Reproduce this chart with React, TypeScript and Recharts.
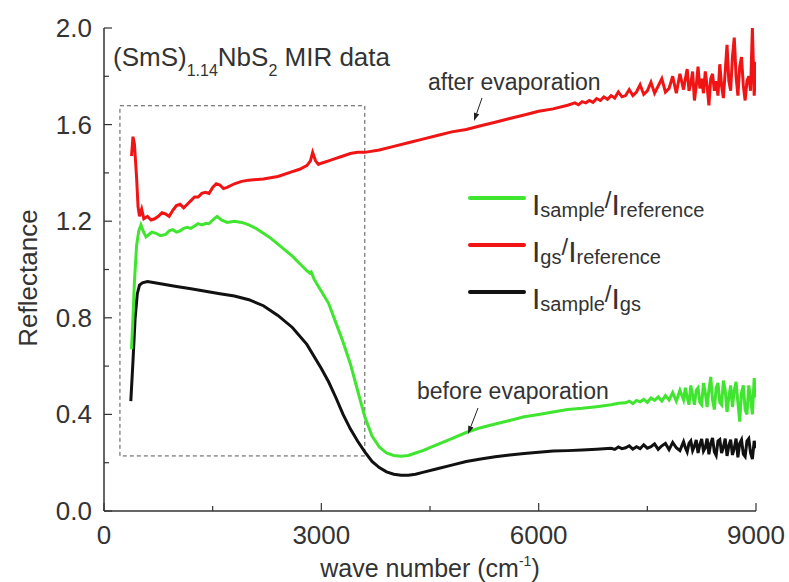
import React from "react";
import { LineChart, Line, XAxis, YAxis, ReferenceArea } from "recharts";

// [wave number, reflectance]
const GS_REF: [number, number][] = [
  [380, 1.47], [400, 1.55], [420, 1.52], [450, 1.38], [470, 1.26], [490, 1.22], [520, 1.25], [550, 1.21],
  [600, 1.22], [650, 1.205], [700, 1.21], [750, 1.22], [800, 1.235], [850, 1.23], [900, 1.22], [950, 1.245],
  [1000, 1.265], [1050, 1.27], [1100, 1.255], [1150, 1.27], [1200, 1.285], [1250, 1.3], [1300, 1.3],
  [1350, 1.315], [1400, 1.32], [1450, 1.315], [1500, 1.34], [1550, 1.355], [1600, 1.35], [1650, 1.335],
  [1700, 1.34], [1800, 1.355], [1900, 1.365], [2000, 1.37], [2200, 1.375], [2400, 1.385], [2600, 1.405],
  [2700, 1.415], [2800, 1.43], [2850, 1.45], [2880, 1.485], [2920, 1.45], [2960, 1.435], [3000, 1.44],
  [3100, 1.45], [3200, 1.46], [3300, 1.47], [3400, 1.48], [3500, 1.485], [3600, 1.485], [3800, 1.495],
  [4000, 1.51], [4200, 1.525], [4400, 1.54], [4600, 1.555], [4800, 1.57], [5000, 1.58], [5200, 1.595],
  [5400, 1.61], [5600, 1.625], [5800, 1.64], [6000, 1.655], [6200, 1.665], [6400, 1.68],
  [6500, 1.69], [6550, 1.682], [6600, 1.695], [6650, 1.69], [6700, 1.7], [6750, 1.692], [6800, 1.708],
  [6850, 1.7], [6900, 1.715], [6950, 1.705], [7000, 1.72], [7050, 1.71], [7100, 1.735], [7150, 1.715],
  [7200, 1.72], [7250, 1.745], [7300, 1.72], [7350, 1.735], [7400, 1.765], [7450, 1.725], [7500, 1.74],
  [7550, 1.775], [7600, 1.73], [7650, 1.76], [7700, 1.79], [7750, 1.735], [7800, 1.75], [7850, 1.8],
  [7900, 1.73], [7950, 1.81], [8000, 1.745], [8025, 1.79], [8050, 1.83], [8075, 1.74], [8100, 1.77],
  [8125, 1.82], [8150, 1.7], [8175, 1.76], [8200, 1.84], [8225, 1.75], [8250, 1.79], [8275, 1.73],
  [8300, 1.82], [8325, 1.76], [8350, 1.68], [8375, 1.79], [8400, 1.81], [8425, 1.74], [8450, 1.78],
  [8475, 1.72], [8500, 1.85], [8525, 1.76], [8550, 1.71], [8575, 1.82], [8600, 1.93], [8625, 1.78],
  [8650, 1.74], [8675, 1.88], [8700, 1.96], [8725, 1.8], [8750, 1.72], [8775, 1.84], [8800, 1.88],
  [8825, 1.76], [8850, 1.7], [8875, 1.78], [8900, 1.8], [8925, 1.74], [8950, 2.0], [8975, 1.72], [9000, 1.86],
];

const SAMPLE_REF: [number, number][] = [
  [380, 0.67], [400, 0.8], [420, 0.95], [450, 1.1], [480, 1.16], [510, 1.185], [540, 1.16], [580, 1.135],
  [620, 1.145], [660, 1.155], [720, 1.15], [780, 1.14], [850, 1.145], [900, 1.16], [950, 1.165],
  [1000, 1.155], [1050, 1.16], [1100, 1.17], [1150, 1.175], [1200, 1.17], [1250, 1.18], [1300, 1.19],
  [1350, 1.185], [1400, 1.19], [1450, 1.19], [1500, 1.205], [1560, 1.22], [1620, 1.205], [1700, 1.195],
  [1800, 1.2], [1900, 1.195], [2000, 1.185], [2100, 1.17], [2200, 1.15], [2300, 1.13], [2400, 1.105],
  [2500, 1.08], [2600, 1.055], [2700, 1.025], [2800, 0.995], [2840, 0.985], [2860, 0.99], [2900, 0.96],
  [2950, 0.935], [3000, 0.91], [3100, 0.86], [3200, 0.78], [3300, 0.7], [3400, 0.61], [3500, 0.5],
  [3600, 0.39], [3700, 0.31], [3800, 0.265], [3900, 0.24], [4000, 0.23], [4100, 0.227], [4200, 0.23],
  [4300, 0.24], [4400, 0.25], [4600, 0.275], [4800, 0.3], [5000, 0.325], [5200, 0.345], [5400, 0.36],
  [5600, 0.375], [5800, 0.39], [6000, 0.4], [6200, 0.41], [6400, 0.42], [6600, 0.425], [6800, 0.432],
  [6900, 0.436], [7000, 0.44], [7100, 0.446], [7200, 0.448], [7250, 0.455], [7300, 0.445], [7350, 0.458],
  [7400, 0.452], [7450, 0.462], [7500, 0.45], [7550, 0.468], [7600, 0.458], [7650, 0.472], [7700, 0.455],
  [7750, 0.478], [7800, 0.46], [7850, 0.49], [7900, 0.455], [7950, 0.5], [8000, 0.46], [8025, 0.51],
  [8050, 0.47], [8075, 0.44], [8100, 0.52], [8125, 0.48], [8150, 0.44], [8175, 0.5], [8200, 0.51],
  [8225, 0.45], [8250, 0.44], [8275, 0.53], [8300, 0.49], [8325, 0.43], [8350, 0.5], [8375, 0.555],
  [8400, 0.46], [8425, 0.42], [8450, 0.51], [8475, 0.53], [8500, 0.45], [8525, 0.44], [8550, 0.54],
  [8575, 0.5], [8600, 0.41], [8625, 0.47], [8650, 0.52], [8675, 0.43], [8700, 0.5], [8725, 0.535],
  [8750, 0.45], [8775, 0.37], [8800, 0.49], [8825, 0.52], [8850, 0.42], [8875, 0.4], [8900, 0.52],
  [8925, 0.47], [8950, 0.4], [8975, 0.55], [9000, 0.47],
];

const SAMPLE_GS: [number, number][] = [
  [370, 0.455], [400, 0.62], [430, 0.8], [460, 0.9], [490, 0.935], [530, 0.945], [600, 0.95], [700, 0.945],
  [800, 0.94], [900, 0.935], [1000, 0.93], [1200, 0.92], [1400, 0.91], [1600, 0.9], [1800, 0.89],
  [2000, 0.875], [2200, 0.85], [2400, 0.81], [2600, 0.76], [2800, 0.69], [3000, 0.59], [3100, 0.535],
  [3200, 0.47], [3300, 0.4], [3400, 0.34], [3500, 0.29], [3600, 0.245], [3700, 0.205], [3800, 0.18],
  [3900, 0.162], [4000, 0.152], [4100, 0.148], [4200, 0.148], [4300, 0.152], [4400, 0.16], [4600, 0.175],
  [4800, 0.19], [5000, 0.205], [5200, 0.215], [5400, 0.225], [5600, 0.232], [5800, 0.238], [6000, 0.243],
  [6200, 0.248], [6400, 0.25], [6600, 0.253], [6800, 0.256], [6900, 0.258], [7000, 0.26], [7050, 0.255],
  [7100, 0.265], [7150, 0.258], [7200, 0.262], [7250, 0.27], [7300, 0.256], [7350, 0.266], [7400, 0.258],
  [7450, 0.274], [7500, 0.26], [7550, 0.266], [7600, 0.278], [7650, 0.255], [7700, 0.27], [7750, 0.28],
  [7800, 0.254], [7850, 0.284], [7900, 0.262], [7950, 0.25], [8000, 0.287], [8025, 0.262], [8050, 0.245],
  [8075, 0.28], [8100, 0.29], [8125, 0.25], [8150, 0.268], [8175, 0.294], [8200, 0.24], [8225, 0.275],
  [8250, 0.298], [8275, 0.248], [8300, 0.262], [8325, 0.3], [8350, 0.235], [8375, 0.28], [8400, 0.302],
  [8425, 0.245], [8450, 0.23], [8475, 0.29], [8500, 0.296], [8525, 0.24], [8550, 0.265], [8575, 0.3],
  [8600, 0.228], [8625, 0.27], [8650, 0.295], [8675, 0.232], [8700, 0.26], [8725, 0.3], [8750, 0.222],
  [8775, 0.28], [8800, 0.295], [8825, 0.235], [8850, 0.225], [8875, 0.29], [8900, 0.3], [8925, 0.24],
  [8950, 0.215], [8975, 0.29], [9000, 0.26],
];

const X_TICKS = [0, 1500, 3000, 4500, 6000, 7500, 9000];
const Y_TICKS = [0, 0.2, 0.4, 0.6, 0.8, 1.0, 1.2, 1.4, 1.6, 1.8, 2.0];
// dashed box marking the zoomed region
const BOX = { x1: 220, x2: 3600, y1: 0.228, y2: 1.678 };

const RED = "#f01414";
const GREEN = "#3fe52e";
const BLACK = "#111111";
const AXIS = "#333333";
const FONT = "'Liberation Sans', Arial, sans-serif";

const toRows = (pts: [number, number][]) => pts.map(([x, y]) => ({ x, y }));

function BottomTick(props: any) {
  const { x, y, index } = props;
  const major = index % 2 === 0;
  return (
    <g>
      <line x1={x} x2={x} y1={y} y2={y - (major ? 8 : 5)} stroke={AXIS} strokeWidth={1.2} />
      {major && (
        <text x={x} y={y + 33} textAnchor="middle" fontSize={26} fill={AXIS} fontFamily={FONT}>
          {X_TICKS[index]}
        </text>
      )}
    </g>
  );
}

function TopTick(props: any) {
  const { x, y, index } = props;
  const major = index % 2 === 0;
  return <line x1={x} x2={x} y1={y} y2={y + (major ? 8 : 5)} stroke={AXIS} strokeWidth={1.2} />;
}

function LeftTick(props: any) {
  const { x, y, index } = props;
  const major = index % 2 === 0;
  return (
    <g>
      <line x1={x} x2={x + (major ? 8 : 5)} y1={y} y2={y} stroke={AXIS} strokeWidth={1.2} />
      {major && (
        <text x={x - 12} y={y + 9} textAnchor="end" fontSize={26} fill={AXIS} fontFamily={FONT}>
          {Y_TICKS[index].toFixed(1)}
        </text>
      )}
    </g>
  );
}

function RightTick(props: any) {
  const { x, y, index } = props;
  const major = index % 2 === 0;
  return <line x1={x} x2={x - (major ? 8 : 5)} y1={y} y2={y} stroke={AXIS} strokeWidth={1.2} />;
}

function Arrow({ x1, y1, x2, y2 }: { x1: number; y1: number; x2: number; y2: number }) {
  const len = Math.hypot(x2 - x1, y2 - y1);
  const ux = (x2 - x1) / len, uy = (y2 - y1) / len;
  const bx = x2 - ux * 8, by = y2 - uy * 8;
  const pts = `${x2},${y2} ${bx - uy * 2.8},${by + ux * 2.8} ${bx + uy * 2.8},${by - ux * 2.8}`;
  return (
    <g>
      <line x1={x1} y1={y1} x2={bx} y2={by} stroke="#222" strokeWidth={1} />
      <polygon points={pts} fill="#222" />
    </g>
  );
}

function LegendRow({ y, color, a, b }: { y: number; color: string; a: string; b: string }) {
  return (
    <g>
      <line x1={470} x2={524} y1={y} y2={y} stroke={color} strokeWidth={4} strokeLinecap="round" />
      <text x={532} y={y + 17} fill="#333" fontFamily={FONT}>
        <tspan fontSize={30}>I</tspan>
        <tspan fontSize={20} dy={2}>{a}</tspan>
        <tspan fontSize={24} dy={-9}>/</tspan>
        <tspan fontSize={30} dy={7}>I</tspan>
        <tspan fontSize={20} dy={2}>{b}</tspan>
      </text>
    </g>
  );
}

export default function App() {
  return (
    <div style={{ position: "absolute", left: 0, top: 0, width: 789, height: 582, background: "#fff" }}>
      <LineChart width={789} height={582} margin={{ top: 28, right: 33, bottom: 0, left: 0 }}>
        <XAxis
          dataKey="x" type="number" domain={[0, 9000]} ticks={X_TICKS} height={71}
          allowDataOverflow tickSize={0} tickMargin={0} tickLine={false}
          axisLine={{ stroke: AXIS, strokeWidth: 1.5 }} tick={<BottomTick />} interval={0}
        />
        <XAxis
          xAxisId="top" orientation="top" dataKey="x" type="number" domain={[0, 9000]} ticks={X_TICKS}
          height={0} tickSize={0} tickMargin={0} tickLine={false}
          axisLine={{ stroke: AXIS, strokeWidth: 1.5 }} tick={<TopTick />} interval={0}
        />
        <YAxis
          type="number" domain={[0, 2]} ticks={Y_TICKS} width={104} allowDataOverflow
          tickSize={0} tickMargin={0} tickLine={false}
          axisLine={{ stroke: AXIS, strokeWidth: 1.5 }} tick={<LeftTick />} interval={0}
        />
        <YAxis
          yAxisId="right" orientation="right" type="number" domain={[0, 2]} ticks={Y_TICKS} width={0}
          tickSize={0} tickMargin={0} tickLine={false}
          axisLine={{ stroke: AXIS, strokeWidth: 1.5 }} tick={<RightTick />} interval={0}
        />
        <ReferenceArea
          x1={BOX.x1} x2={BOX.x2} y1={BOX.y1} y2={BOX.y2}
          fill="none" fillOpacity={0} stroke="#555" strokeWidth={1} strokeDasharray="4 3"
        />
        <Line data={toRows(SAMPLE_GS)} dataKey="y" stroke={BLACK} strokeWidth={3} dot={false} isAnimationActive={false} />
        <Line data={toRows(SAMPLE_REF)} dataKey="y" stroke={GREEN} strokeWidth={3} dot={false} isAnimationActive={false} />
        <Line data={toRows(GS_REF)} dataKey="y" stroke={RED} strokeWidth={3} dot={false} isAnimationActive={false} />
      </LineChart>

      <svg width={789} height={582} style={{ position: "absolute", left: 0, top: 0, pointerEvents: "none" }}>
        <text x={113} y={66} fontSize={26} fill="#333" fontFamily={FONT}>
          <tspan>(SmS)</tspan>
          <tspan fontSize={16} dy={10}>1.14</tspan>
          <tspan dy={-10}>NbS</tspan>
          <tspan fontSize={16} dy={10}>2</tspan>
          <tspan dy={-10}> MIR data</tspan>
        </text>

        <text x={428} y={90} fontSize={23} fill="#333" fontFamily={FONT}>after evaporation</text>
        <Arrow x1={482} y1={98} x2={474} y2={121} />
        <text x={417} y={399} fontSize={23} fill="#333" fontFamily={FONT}>before evaporation</text>
        <Arrow x1={478} y1={408} x2={468} y2={434} />

        <LegendRow y={198} color={GREEN} a="sample" b="reference" />
        <LegendRow y={245} color={RED} a="gs" b="reference" />
        <LegendRow y={292} color={BLACK} a="sample" b="gs" />

        <text transform="translate(37,278) rotate(-90)" textAnchor="middle" fontSize={26} fill="#333" fontFamily={FONT}>
          Reflectance
        </text>
        <text x={430} y={577} textAnchor="middle" fontSize={25} fill="#333" fontFamily={FONT}>
          <tspan>wave number (cm</tspan>
          <tspan fontSize={14} dy={-11}>-1</tspan>
          <tspan dy={11}>)</tspan>
        </text>
      </svg>
    </div>
  );
}
